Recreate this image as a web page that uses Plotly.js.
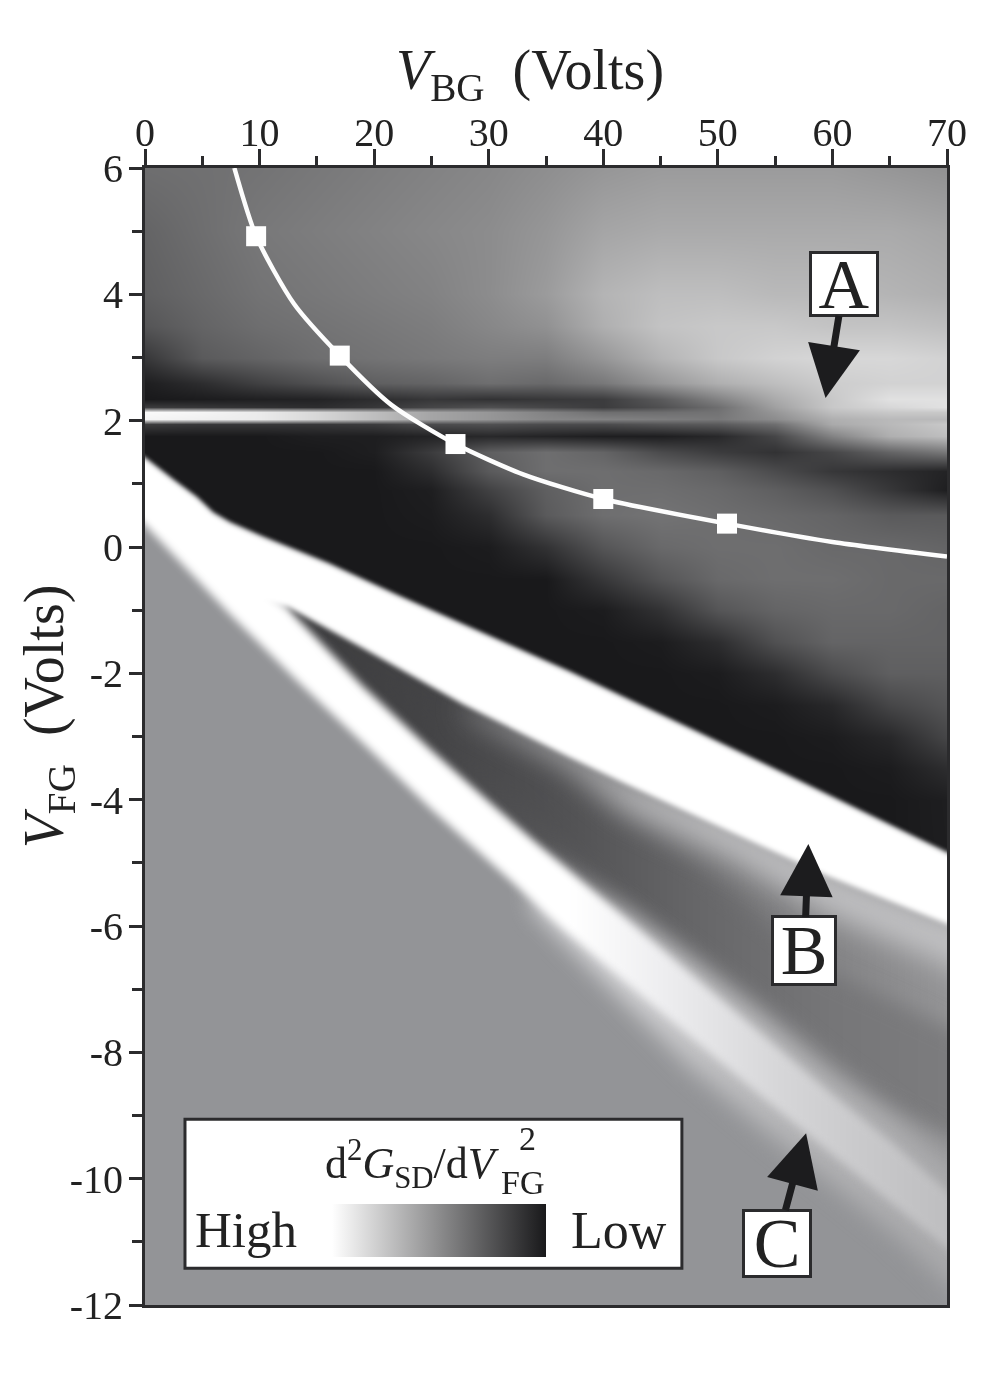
<!DOCTYPE html>
<html>
<head>
<meta charset="utf-8">
<script src="https://cdn.plot.ly/plotly-3.0.1.min.js"></script>
<style>html,body{margin:0;padding:0;background:#fff}</style>
</head>
<body>
<div id="plot" style="width:1000px;height:1375px"></div>
<script>
// ---- chart values ----
const gridX = [0,5,10,15,20,25,30,35,40,45,50,55,60,65,70];
const gridY = [6,5,4,3.5,3,2.6,2.35,2.22,2.14,2.03,1.95,1.75,1.5,1.2,0.9,0.5,0,-0.5,-1,-1.5,-2,-2.5,-3,-3.5,-4,-12];
const grayRows = [
 [110,112,115,120,125,130,135,142,150,155,155,155,155,150,145],
 [100,110,120,125,130,135,140,150,165,170,170,170,170,170,165],
 [ 95,105,115,120,125,130,140,155,180,190,190,185,185,180,175],
 [ 85,100,110,115,120,125,135,145,175,195,200,200,195,195,190],
 [ 55, 90,100,110,115,120,125,125,150,180,200,210,215,215,210],
 [ 30, 45, 65, 80, 95,100,110,105,120,150,175,190,205,210,210],
 [ 25, 28, 32, 35, 45, 55, 50, 55, 60, 90,130,170,200,225,225],
 [ 60, 55, 50, 45, 55, 70, 80, 70, 60, 80,110,160,200,215,225],
 [250,245,235,215,190,165,150,130,110,110,115,150,190,200,200],
 [245,240,235,215,190,165,150,135,130,125,120,140,175,185,185],
 [ 60, 55, 55, 55, 60, 75, 80, 75, 75, 85, 90,110,170,185,200],
 [ 25, 25, 25, 30, 30, 35, 40, 35, 30, 30, 40, 70,130,175,190],
 [ 25, 25, 25, 25, 30, 60, 95,110,100, 75, 60, 50, 70,100,120],
 [ 25, 25, 25, 25, 25, 45, 90,110,110,105, 95, 75, 55, 45, 35],
 [ 25, 25, 25, 25, 25, 30, 65, 95,110,110,105, 95, 80, 55, 30],
 [ 25, 25, 25, 25, 25, 28, 45, 90,110,115,110,105,100, 90, 90],
 [ 25, 25, 25, 25, 25, 25, 28, 50, 85,105,110,110,105,105,100],
 [ 25, 25, 25, 25, 25, 25, 25, 25, 55, 85,105,110,110,105,105],
 [ 25, 25, 25, 25, 25, 25, 25, 25, 28, 50, 85,100,105,105,100],
 [ 25, 25, 25, 25, 25, 25, 25, 25, 25, 28, 45, 80,100,100,100],
 [ 25, 25, 25, 25, 25, 25, 25, 25, 25, 25, 28, 45, 75, 95, 95],
 [ 25, 25, 25, 25, 25, 25, 25, 25, 25, 25, 25, 28, 40, 70, 85],
 [ 25, 25, 25, 25, 25, 25, 25, 25, 25, 25, 25, 25, 28, 40, 70],
 [ 25, 25, 25, 25, 25, 25, 25, 25, 25, 25, 25, 25, 25, 28, 45],
 [ 25, 25, 25, 25, 25, 25, 25, 25, 25, 25, 25, 25, 25, 25, 30],
 [ 25, 25, 25, 25, 25, 25, 25, 25, 25, 25, 25, 25, 25, 25, 25]
];

// band boundaries (V_BG, V_FG)
const bTopX = [-5,0,2.5,4.5,5.9,7.4,10.3,16,22,27.6,37,48,56.5,70,76];
const bTopY = [1.85,1.4,1.05,0.78,0.54,0.38,0.15,-0.27,-0.77,-1.22,-1.98,-2.92,-3.66,-4.85,-5.35];
const bLowX = [76,70,59.5,50.8,42,37,27.7,19,12.5,8,0,-5];
const bLowY = [-6.4,-5.96,-5.2,-4.48,-3.75,-3.32,-2.48,-1.6,-0.95,-0.75,0.5,1.3];
const cInUpX = [0,12.5,19,24.9,30.7,37,42,47.8,53.7,59.5,65.3,70,76];
const cInUpY = [0.9,-0.98,-2.2,-3.2,-4.15,-5.13,-5.9,-6.8,-7.7,-8.6,-9.45,-10.2,-11.1];
const cInLowX = [76,70,65.3,59.5,53.7,47.8,42,36.5,30.7,24.9,19,13.3,7.4,0,-5];
const cInLowY = [-12.1,-11.1,-10.4,-9.55,-8.68,-7.78,-6.88,-6.03,-5.08,-4.13,-3.1,-2.12,-1.06,0.35,1.1];
const cOutX = [34,42,47.8,53.7,59.5,65.3,70,76,76,70,65.3,59.5,53.7,47.8,42,34];
const cOutY = [-4.95,-5.8,-6.55,-7.35,-8.2,-9.0,-9.7,-10.6,-12.7,-11.65,-10.85,-10,-9.15,-8.25,-7.2,-5.7];
const wedgeX = [12.5,19,27.7,37,42,50.8,59.5,70,76,76,70,59.5,53.7,47.8,42,37,30.7,24.9,19,12.5];
const wedgeY = [-0.78,-1.4,-2.3,-3.0,-3.6,-4.2,-5.0,-5.8,-6.3,-10.7,-9.9,-8.6,-7.8,-7.0,-6.1,-5.3,-4.2,-3.35,-2.45,-1.15];
const coreX = [16,27.7,37,47.8,59.5,70,76,76,70,59.5,47.8,37,27.7,16];
const coreY = [-1.4,-2.55,-3.75,-5.0,-6.7,-7.6,-8.1,-9.8,-9.3,-8.5,-6.6,-4.8,-3.35,-1.75];
const skirtX = [28,37,42,50.8,59.5,70,76,76,70,59.5,50.8,42,37,28];
const skirtY = [-2.5,-3.1,-3.7,-4.3,-5.1,-5.9,-6.3,-7.2,-6.6,-5.8,-4.9,-4.15,-3.4,-2.6];

// lengthwise gray ramps (V_BG position, gray level)
const wedgeRampX = [12,25,35,45,55,70];
const wedgeRampG = [60,68,85,108,125,148];
const coreRampX  = [12,25,37,48,60,70];
const coreRampG  = [60,68,82,102,118,124];
const cInRampX   = [0,37,45,55,62,70];
const cInRampG   = [255,255,238,215,202,190];
const cOutRampX  = [34,42,50,60,70];
const cOutRampG  = [235,215,192,178,170];
const skirtRampX = [28,70];
const skirtRampG = [195,195];

// white curve and squares
const curveX = [7.8,9.7,13,17,21.5,27.1,33,40,50.8,60,70];
const curveY = [6,4.92,3.85,3.03,2.25,1.63,1.15,0.76,0.37,0.08,-0.15];
const squareX = [9.7,17,27.1,40,50.8];
const squareY = [4.92,3.03,1.63,0.76,0.37];

const xTicks = [0,10,20,30,40,50,60,70];
const yTicks = [6,4,2,0,-2,-4,-6,-8,-10,-12];
const yTickText = ['6','4','2','0','-2','-4','-6','-8','-10','-12'];

// ---- drawing ----
const SERIF = '"Liberation Serif","Times New Roman",serif';
const INK = '#2b2b2d';
const BASE = 'rgb(147,148,151)';
const g2c = g => `rgb(${g},${g},${Math.min(255,g+2)})`;
function ramp(xs, gs){
  const a = xs[0], b = xs[xs.length-1];
  return {type:'horizontal', start:a, stop:b,
          colorscale: xs.map((x,i)=>[(x-a)/(b-a), g2c(gs[i])])};
}
function poly(xs, ys, extra){
  return Object.assign({type:'scatter', mode:'lines', x:xs, y:ys, fill:'toself',
    line:{width:0}, hoverinfo:'skip', showlegend:false}, extra);
}
const rowsUp = grayRows.slice().reverse().map(r => r.map(g => 255-g));
const data = [
  {type:'heatmap', x:gridX, y:gridY.slice().reverse(), z:rowsUp, zsmooth:'best',
   zmin:0, zmax:230, hoverinfo:'skip',
   colorscale:[[0,'rgb(255,255,255)'],[1,'rgb(25,25,27)']],
   colorbar:{orientation:'h', x:(332-145)/802, xanchor:'left', len:214/802, lenmode:'fraction',
             y:(1305-1257)/1137, yanchor:'bottom', thickness:53, thicknessmode:'pixels',
             xpad:0, ypad:0, outlinewidth:0, borderwidth:0, ticks:'', showticklabels:false}},
  poly(bTopX.concat([76,-5]), bTopY.concat([-13,-13]), {fillcolor:BASE}),
  poly(wedgeX, wedgeY, {fillgradient:ramp(wedgeRampX, wedgeRampG)}),
  poly(coreX, coreY, {fillgradient:ramp(coreRampX, coreRampG)}),
  poly(skirtX, skirtY, {fillgradient:ramp(skirtRampX, skirtRampG)}),
  poly(cOutX, cOutY, {fillgradient:ramp(cOutRampX, cOutRampG)}),
  poly(cInUpX.concat(cInLowX), cInUpY.concat(cInLowY), {fillgradient:ramp(cInRampX, cInRampG)}),
  poly(bTopX.concat(bLowX), bTopY.concat(bLowY), {fillcolor:'rgb(255,255,255)'}),
  {type:'scatter', mode:'lines', x:curveX, y:curveY, line:{color:'#fdfdfd', width:4.5, shape:'spline', smoothing:0.7},
   hoverinfo:'skip', showlegend:false},
  {type:'scatter', mode:'markers', x:squareX, y:squareY, marker:{symbol:'square', size:20, color:'#ffffff'},
   hoverinfo:'skip', showlegend:false}
];
// blur (px) applied to each filled layer, same order as the fill traces
const softness = [2,5,10,15,12,4,2.5];

function label(t,x,y,ax,ay,w,h){
  return {text:t, x:x, y:y, xref:'x', yref:'y', axref:'pixel', ayref:'pixel', ax:ax, ay:ay,
    showarrow:true, arrowhead:2, arrowwidth:7, arrowsize:1.5, arrowcolor:'#1c1c1e', standoff:0,
    width:w, height:h, bgcolor:'#fff', bordercolor:INK, borderwidth:3, borderpad:0, valign:'middle',
    font:{family:SERIF, size:70, color:'#222'}};
}
function px(t,xpx,ypx,size){
  return {text:t, xref:'paper', yref:'paper', x:(xpx-145)/802, y:(1305-ypx)/1137,
    showarrow:false, xanchor:'center', yanchor:'middle', font:{family:SERIF, size:size, color:'#222'}};
}
const layout = {
  width:1000, height:1375, margin:{l:145, r:53, t:168, b:70},
  paper_bgcolor:'#fff', plot_bgcolor:BASE, showlegend:false,
  font:{family:SERIF, color:'#222'},
  xaxis:{side:'top', range:[0,70], tickvals:xTicks, ticks:'outside', ticklen:16, tickwidth:3, tickcolor:INK,
    tickfont:{family:SERIF, size:40, color:'#222'}, ticklabelstandoff:-13,
    showline:true, mirror:true, linecolor:INK, linewidth:3, showgrid:false, zeroline:false,
    minor:{tickvals:[5,15,25,35,45,55,65], ticks:'outside', ticklen:9, tickwidth:3, tickcolor:INK, showgrid:false},
    title:{text:'<i>V</i><sub>BG</sub>  (Volts)', font:{family:SERIF, size:56, color:'#222'}, standoff:6}},
  yaxis:{range:[-12,6], tickvals:yTicks, ticktext:yTickText, ticks:'outside', ticklen:13, tickwidth:3, tickcolor:INK,
    tickfont:{family:SERIF, size:40, color:'#222'}, ticklabelstandoff:-2,
    showline:true, mirror:true, linecolor:INK, linewidth:3, showgrid:false, zeroline:false,
    minor:{tickvals:[5,3,1,-1,-3,-5,-7,-9,-11], ticks:'outside', ticklen:10, tickwidth:3, tickcolor:INK, showgrid:false},
    title:{text:'<i>V</i><sub>FG</sub>  (Volts)', font:{family:SERIF, size:56, color:'#222'}, standoff:2}},
  shapes:[{type:'rect', xref:'x', yref:'y', x0:3.49, x1:46.86, y0:-11.42, y1:-9.06,
           fillcolor:'#fff', line:{color:INK, width:3}, layer:'above'}],
  annotations:[
    label('A',59.4,2.36,18.5,-113.5,64,60), label('B',57.9,-4.7,-4,107,60,65), label('C',57.7,-9.28,-29.5,110,64,63),
    px('d<sup>2</sup><i>G</i><sub>SD</sub>/d<i>V</i>',412,1164,44),
    px('FG',522,1182,34), px('2',527,1138,34),
    px('High',246,1230,51), px('Low',619,1230,52)
  ]
};
function nudge(sel, dx, dy){
  const el = document.querySelector('#plot .' + sel);
  if(el) el.setAttribute('transform', `translate(${dx},${dy}) ` + (el.getAttribute('transform')||''));
}
Plotly.newPlot('plot', data, layout, {staticPlot:true, displayModeBar:false}).then(() => {
  const traces = document.querySelectorAll('#plot .scatterlayer .trace');
  softness.forEach((b,i) => { if(traces[i]) traces[i].style.filter = `blur(${b}px)`; });
  nudge('xtitle', -16, 3);
  nudge('ytitle', 13, -20);
  document.querySelector('#plot').style.filter = 'blur(0.7px)';
});
</script>
</body>
</html>
